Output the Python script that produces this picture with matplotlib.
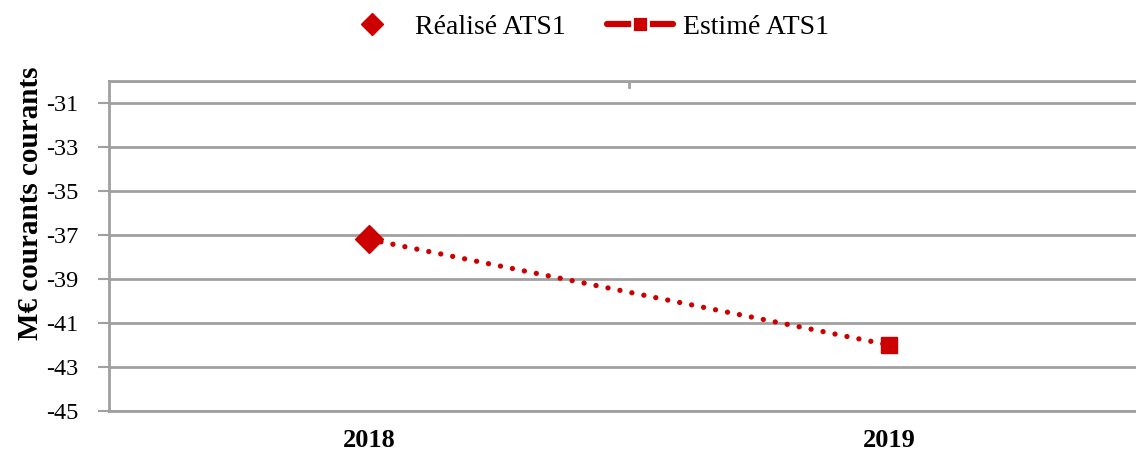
import matplotlib
matplotlib.use("Agg")
import matplotlib.pyplot as plt
from matplotlib.lines import Line2D
import numpy as np

categories = ["2018", "2019"]
realise = [-37.2, np.nan]
estime = [-37.2, -42.0]
yticks = [-31, -33, -35, -37, -39, -41, -43, -45]

plt.rcParams['font.family'] = ['Liberation Serif', 'DejaVu Serif']
plt.rcParams['axes.unicode_minus'] = False

red = '#CC0000'
grid = '#A0A0A0'

fig = plt.figure(figsize=(11.36, 4.55), dpi=100)
ax = fig.add_axes([109/1136, 44/455, 1040/1136, 330/455])

x = np.arange(len(categories))
ax.plot(x, estime, color=red, lw=3.8, linestyle=(0, (0.01, 2.3)),
        dash_capstyle='round', marker='s', markersize=11, markevery=[1],
        markerfacecolor=red, markeredgecolor=red, zorder=3)
ax.plot(x, realise, color=red, lw=0, marker='D', markersize=14,
        markerfacecolor=red, markeredgecolor=red, zorder=4)

ax.set_xlim(-0.5, 1.5)
ax.set_ylim(-45, -30)
ax.set_yticks(yticks)
ax.set_yticklabels([str(v) for v in yticks])
ax.set_xticks(x)
ax.set_xticklabels(categories, fontweight='bold')
ax.tick_params(axis='x', length=0, labelsize=19, pad=13)
ax.tick_params(axis='y', length=8, width=1.5, color=grid, labelsize=17.5, pad=14)

for v in yticks + [-30]:
    ax.axhline(v, color=grid, lw=2, zorder=1)
ax.axvline(0.5, ymin=1 - 6/330, ymax=1, color=grid, lw=2, zorder=1)

for s in ['left', 'bottom', 'top']:
    ax.spines[s].set_color(grid)
    ax.spines[s].set_linewidth(2)
ax.spines['right'].set_visible(False)

ax.set_ylabel("M€ courants courants", fontsize=21, fontweight='bold')
ax.yaxis.set_label_coords(-(109 - 44) / 1040, (411 - 203) / 330)

handles = [
    Line2D([], [], color=red, lw=0, marker='D', markersize=11),
    Line2D([], [], color=red, lw=4.5, solid_capstyle='round', marker='s',
           markersize=11, markeredgecolor='white', markeredgewidth=2),
]
fig.legend(handles, ["Réalisé ATS1", "Estimé ATS1"], loc='center',
           bbox_to_anchor=(584/1136, 1 - 27/455), ncol=2, frameon=False,
           fontsize=20, handlelength=2.4, columnspacing=1.47, handletextpad=0.35)

fig.savefig("out.png", dpi=100)
